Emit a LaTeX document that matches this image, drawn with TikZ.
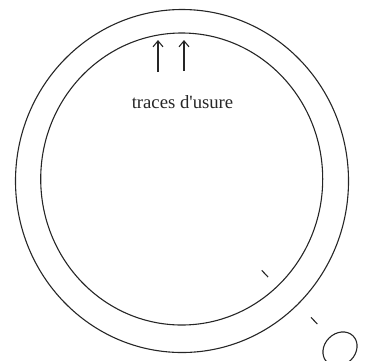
\documentclass[tikz,border=0pt]{standalone}
\usepackage{fontspec}
\setmainfont{Liberation Serif}
\usetikzlibrary{arrows.meta,shapes.geometric}
\tikzset{ln/.style={line width=1.1pt,draw=black!85},
tip/.style={ln,-{Straight Barb[length=6pt,width=10pt]}},
lbl/.style={font=\fontsize{18.7pt}{20pt}\selectfont,text=black!85,inner sep=0pt}}
\begin{document}
\begin{tikzpicture}[x=1pt,y=-1pt]
\path[use as bounding box] (0,0) rectangle (366,360);
\clip (0,0) rectangle (366,360);
\node[ln,ellipse,draw,minimum width=333pt,minimum height=343pt,inner sep=0pt] (outer) at (182,181) {};
\node[ln,ellipse,draw,minimum width=282pt,minimum height=292pt,inner sep=0pt] (inner) at (181.7,179) {};
\node[lbl] (label) at (182.5,102.5) {traces d\textquotesingle usure};
\coordinate (a1) at (158,72); \coordinate (a1e) at (158,40);
\coordinate (a2) at (184,71); \coordinate (a2e) at (184,40);
\draw[tip] (a1) -- (a1e);
\draw[tip] (a2) -- (a2e);
\coordinate (t1) at (261.7,270.3); \coordinate (t1e) at (268,277);
\coordinate (t2) at (311,317.3); \coordinate (t2e) at (317.3,324);
\draw[ln] (t1) -- (t1e);
\draw[ln] (t2) -- (t2e);
\node[ln,ellipse,draw,rotate=45,minimum width=37pt,minimum height=31pt,inner sep=0pt] (hole) at (340,349) {};
\end{tikzpicture}
\end{document}
